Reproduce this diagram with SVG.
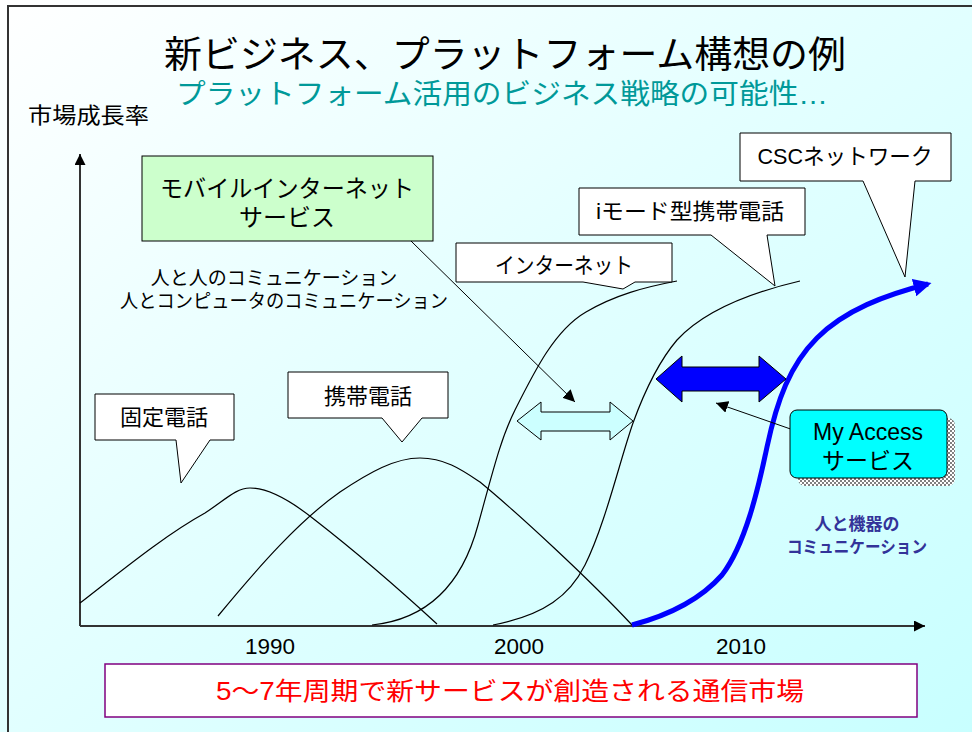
<svg xmlns="http://www.w3.org/2000/svg" width="972" height="732" viewBox="0 0 972 732">
<defs>
<linearGradient id="bg" x1="0" y1="0" x2="1" y2="1">
<stop offset="0" stop-color="#ffffff"/>
<stop offset="0.45" stop-color="#e4ffff"/>
<stop offset="1" stop-color="#c8ffff"/>
</linearGradient>
<pattern id="checker" width="4" height="4" patternUnits="userSpaceOnUse">
<rect width="4" height="4" fill="#ffffff"/>
<rect width="2" height="2" fill="#808080"/>
<rect x="2" y="2" width="2" height="2" fill="#808080"/>
</pattern>
<marker id="ah" viewBox="0 0 10 10" refX="10" refY="5" markerWidth="12" markerHeight="12" markerUnits="userSpaceOnUse" orient="auto">
<path d="M0,0 L10,5 L0,10 z" fill="#000"/>
</marker>
<marker id="axh" viewBox="0 0 10 10" refX="10" refY="5" markerWidth="11" markerHeight="11" markerUnits="userSpaceOnUse" orient="auto">
<path d="M0,0 L10,5 L0,10 z" fill="#000"/>
</marker>
<marker id="bh" viewBox="0 0 10 10" refX="8" refY="5" markerWidth="18" markerHeight="18" markerUnits="userSpaceOnUse" orient="auto">
<path d="M0,0 L10,5 L0,10 z" fill="#0000ff"/>
</marker>
</defs>
<style>
text{font-family:"Liberation Sans","Noto Sans CJK JP",sans-serif;fill:#000}
.call{fill:#ffffff;stroke:#000;stroke-width:1}
.curve{fill:none;stroke:#000;stroke-width:1.2}
.lbl{font-size:22px;text-anchor:middle}
.yr{font-size:22px;text-anchor:middle}
</style>
<rect x="0" y="0" width="972" height="732" fill="url(#bg)"/>
<path d="M8,732 L8,6 L972,6" fill="none" stroke="#333" stroke-width="2"/>

<g id="title">
<text x="505" y="68" font-size="37" text-anchor="middle" textLength="682" lengthAdjust="spacingAndGlyphs">新ビジネス、プラットフォーム構想の例</text>
<text x="502" y="104" font-size="28" text-anchor="middle" style="fill:#009999" textLength="652" lengthAdjust="spacingAndGlyphs">プラットフォーム活用のビジネス戦略の可能性…</text>
</g>
<g id="yaxis-label"><text x="28" y="123" font-size="22" textLength="121" lengthAdjust="spacingAndGlyphs">市場成長率</text></g>

<g id="connectors">
<line x1="80" y1="626" x2="80" y2="154" stroke="#333" stroke-width="2" marker-end="url(#axh)"/>
<line x1="80" y1="626" x2="925" y2="626" stroke="#333" stroke-width="2" marker-end="url(#axh)"/>
<path class="curve" d="M80,603 C120,572 165,535 205,513 C225,500 236,488 250,488 C268,488 290,500 315,520 C360,555 400,590 437,624"/>
<path class="curve" d="M218,616 C260,565 300,520 340,492 C370,472 395,458 420,458 C445,458 462,470 480,482 C520,515 590,580 632,625"/>
<path class="curve" d="M372,625 C420,620 460,592 478,525 C492,475 500,440 515,410 C535,370 555,330 586,312 C615,295 645,287 677,281"/>
<path class="curve" d="M493,625 C545,615 570,595 585,565 C605,525 620,460 633,423 C645,390 660,360 677,340 C700,315 740,295 800,281"/>
<path d="M632,625 C670,615 700,600 722,575 C745,545 758,490 767,447 C777,400 790,365 817,338 C845,310 885,295 928,284" fill="none" stroke="#0000ff" stroke-width="5" marker-end="url(#bh)"/>
<line x1="411" y1="241" x2="575" y2="402" stroke="#000" stroke-width="1" marker-end="url(#ah)"/>
<line x1="802" y1="433" x2="716" y2="403" stroke="#000" stroke-width="1" marker-end="url(#ah)"/>
</g>

<g id="arrow-light">
<path d="M517,421 L541,402 L541,412 L610,412 L610,402 L633,421 L610,440 L610,431 L541,431 L541,440 Z" fill="#ccffff" stroke="#000" stroke-width="1"/>
</g>
<g id="arrow-blue">
<path d="M656,379 L682,356 L682,367 L759,367 L759,356 L786,379 L759,402 L759,391 L682,391 L682,402 Z" fill="#0000ff" stroke="#000" stroke-width="1"/>
</g>

<g id="kotei">
<path class="call" d="M95,394 L234,394 L234,440 L210,440 L181,483 L176,440 L95,440 Z"/>
<text class="lbl" x="164" y="425" font-size="23">固定電話</text>
</g>
<g id="keitai">
<path class="call" d="M288,372 L448,372 L448,418 L422,418 L402,442 L382,418 L288,418 Z"/>
<text class="lbl" x="368" y="404" font-size="23">携帯電話</text>
</g>
<g id="internet">
<path class="call" d="M456,243 L672,243 L672,282 L635,282 L623,289 L583,282 L456,282 Z"/>
<text class="lbl" x="564" y="273" font-size="21" textLength="138" lengthAdjust="spacingAndGlyphs">インターネット</text>
</g>
<g id="imode">
<path class="call" d="M579,188 L805,188 L805,235 L767,235 L775,286 L711,235 L579,235 Z"/>
<text class="lbl" x="690" y="219" textLength="188" lengthAdjust="spacingAndGlyphs">iモード型携帯電話</text>
</g>
<g id="csc">
<path class="call" d="M740,133 L951,133 L951,181 L915,181 L905,277 L863,181 L740,181 Z"/>
<text class="lbl" x="845" y="164" textLength="175" lengthAdjust="spacingAndGlyphs">CSCネットワーク</text>
</g>
<g id="mobile-internet">
<rect x="142" y="156" width="291" height="85" fill="#ccffcc" stroke="#000" stroke-width="1"/>
<text x="287" y="197" font-size="24" text-anchor="middle" textLength="254" lengthAdjust="spacingAndGlyphs">モバイルインターネット</text>
<text x="287" y="226" font-size="24" text-anchor="middle">サービス</text>
</g>
<g id="comm-text">
<text x="274" y="285" font-size="19" text-anchor="middle">人と人のコミュニケーション</text>
<text x="284" y="308" font-size="19" text-anchor="middle" textLength="328" lengthAdjust="spacingAndGlyphs">人とコンピュータのコミュニケーション</text>
</g>
<g id="myaccess">
<rect x="798" y="418" width="157" height="68" rx="7" fill="url(#checker)"/>
<rect x="790" y="410" width="157" height="68" rx="7" fill="#00ffff" stroke="#000" stroke-width="1"/>
<text x="868" y="440" font-size="23" text-anchor="middle">My Access</text>
<text x="868" y="469" font-size="23" text-anchor="middle">サービス</text>
</g>
<g id="kiki-text">
<text x="857" y="530" font-size="17" font-weight="bold" text-anchor="middle" style="fill:#333399">人と機器の</text>
<text x="857" y="553" font-size="17" font-weight="bold" text-anchor="middle" style="fill:#333399" textLength="140" lengthAdjust="spacingAndGlyphs">コミュニケーション</text>
</g>
<g id="years">
<text class="yr" x="270" y="654" textLength="50" lengthAdjust="spacingAndGlyphs">1990</text>
<text class="yr" x="519" y="654" textLength="50" lengthAdjust="spacingAndGlyphs">2000</text>
<text class="yr" x="741" y="654" textLength="50" lengthAdjust="spacingAndGlyphs">2010</text>
</g>
<g id="bottom-box">
<rect x="105" y="664" width="812" height="53" fill="#ffffff" stroke="#800080" stroke-width="1.5"/>
<text x="510" y="700" font-size="25" text-anchor="middle" style="fill:#ff0000" textLength="588" lengthAdjust="spacingAndGlyphs">5～7年周期で新サービスが創造される通信市場</text>
</g>
</svg>
